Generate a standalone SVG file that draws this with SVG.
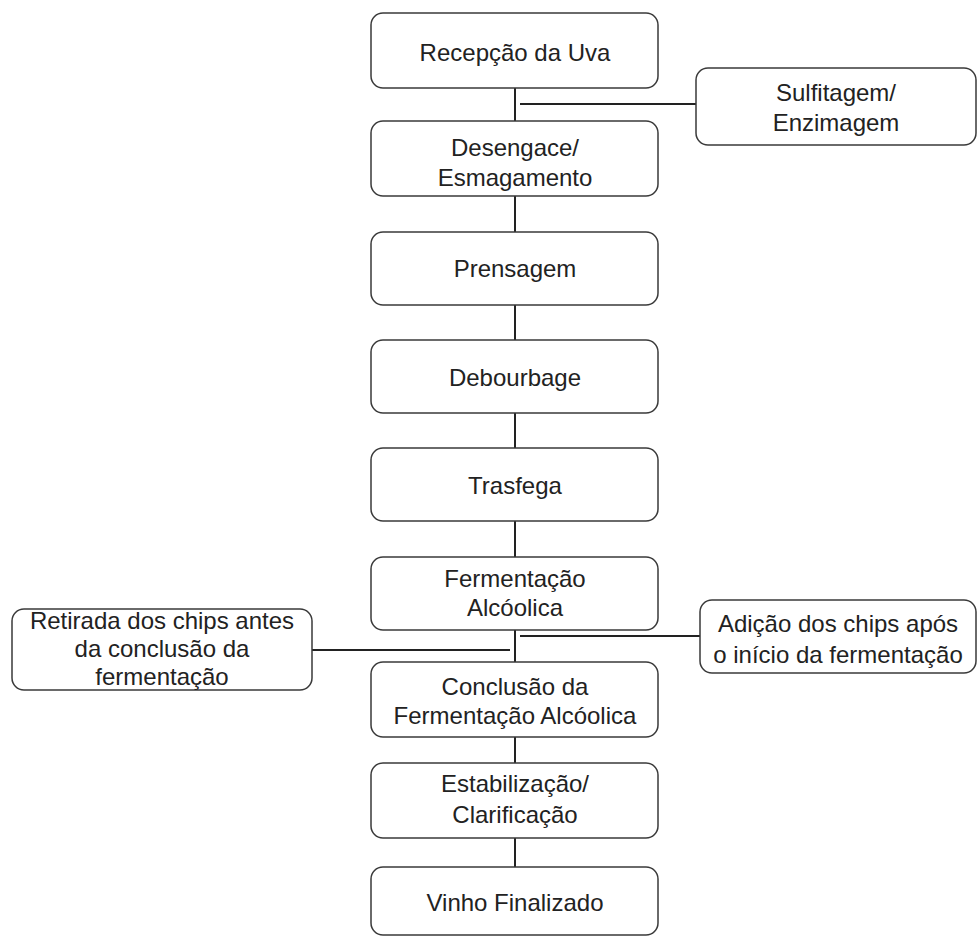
<svg xmlns="http://www.w3.org/2000/svg" width="977" height="936" viewBox="0 0 977 936">
<style>
.box{fill:#fff;stroke:#3a3a3a;stroke-width:1.5}
.t{font-family:"Liberation Sans",Arial,sans-serif;font-size:24px;fill:#222;text-anchor:middle}
.c{stroke:#222;stroke-width:2;fill:none}
</style>
<rect width="977" height="936" fill="#fff"/>
<g id="connectors">
<line class="c" x1="515" y1="88" x2="515" y2="121"/>
<line class="c" x1="520" y1="104" x2="696" y2="104"/>
<line class="c" x1="515" y1="196" x2="515" y2="232"/>
<line class="c" x1="515" y1="305" x2="515" y2="340"/>
<line class="c" x1="515" y1="413" x2="515" y2="448"/>
<line class="c" x1="515" y1="521" x2="515" y2="557"/>
<line class="c" x1="515" y1="630" x2="515" y2="662"/>
<line class="c" x1="520" y1="636" x2="700" y2="636"/>
<line class="c" x1="312" y1="650" x2="510" y2="650"/>
<line class="c" x1="515" y1="737" x2="515" y2="763"/>
<line class="c" x1="515" y1="838" x2="515" y2="867"/>
</g>
<g id="n1"><rect class="box" x="371" y="13" width="287" height="75" rx="12"/><text class="t" x="515" y="61">Recepção da Uva</text></g>
<g id="n2"><rect class="box" x="371" y="121" width="287" height="75" rx="12"/><text class="t" x="515" y="156">Desengace/</text><text class="t" x="515" y="186">Esmagamento</text></g>
<g id="n3"><rect class="box" x="371" y="232" width="287" height="73" rx="12"/><text class="t" x="515" y="277">Prensagem</text></g>
<g id="n4"><rect class="box" x="371" y="340" width="287" height="73" rx="12"/><text class="t" x="515" y="386">Debourbage</text></g>
<g id="n5"><rect class="box" x="371" y="448" width="287" height="73" rx="12"/><text class="t" x="515" y="494">Trasfega</text></g>
<g id="n6"><rect class="box" x="371" y="557" width="287" height="73" rx="12"/><text class="t" x="515" y="587">Fermentação</text><text class="t" x="515" y="616">Alcóolica</text></g>
<g id="n7"><rect class="box" x="371" y="662" width="287" height="75" rx="12"/><text class="t" x="515" y="695">Conclusão da</text><text class="t" x="515" y="724">Fermentação Alcóolica</text></g>
<g id="n8"><rect class="box" x="371" y="763" width="287" height="75" rx="12"/><text class="t" x="515" y="792">Estabilização/</text><text class="t" x="515" y="823">Clarificação</text></g>
<g id="n9"><rect class="box" x="371" y="867" width="287" height="68" rx="12"/><text class="t" x="515" y="911">Vinho Finalizado</text></g>
<g id="s1"><rect class="box" x="696" y="68" width="280" height="77" rx="12"/><text class="t" x="836" y="101">Sulfitagem/</text><text class="t" x="836" y="131">Enzimagem</text></g>
<g id="s2"><rect class="box" x="700" y="600" width="276" height="73" rx="12"/><text class="t" x="838" y="632">Adição dos chips após</text><text class="t" x="838" y="663">o início da fermentação</text></g>
<g id="s3"><rect class="box" x="12" y="609" width="300" height="81" rx="12"/><text class="t" x="162" y="629">Retirada dos chips antes</text><text class="t" x="162" y="657">da conclusão da</text><text class="t" x="162" y="685">fermentação</text></g>
</svg>
